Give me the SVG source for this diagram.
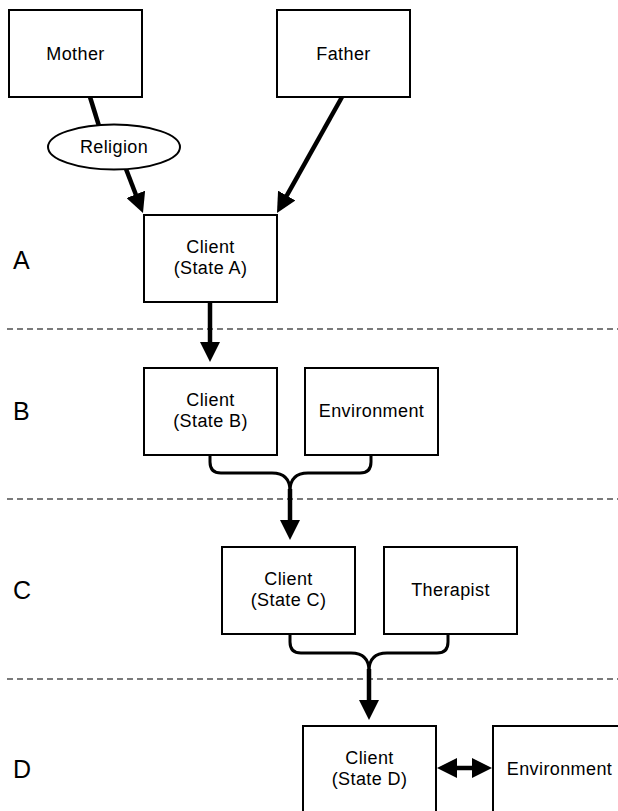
<svg xmlns="http://www.w3.org/2000/svg" width="618" height="811" viewBox="0 0 618 811">
<style>
.box{fill:#fff;stroke:#000;stroke-width:2}
.t{font-family:"Liberation Sans",Arial,Helvetica,sans-serif;font-size:18px;fill:#000;text-anchor:middle;letter-spacing:0.4px}
.lbl{font-family:"Liberation Sans",Arial,Helvetica,sans-serif;font-size:25px;fill:#000}
.dash{stroke:#7a7a7a;stroke-width:2;stroke-dasharray:6 4;fill:none}
.arr{stroke:#000;stroke-width:4.5;fill:none;marker-end:url(#ah)}
.brace{stroke:#000;stroke-width:3;fill:none}
</style>
<defs>
<marker id="ah" markerUnits="userSpaceOnUse" markerWidth="22" markerHeight="20" refX="2" refY="10" orient="auto-start-reverse" viewBox="0 0 22 20">
<path d="M0,0 L20,10 L0,20 z" fill="#000"/>
</marker>
</defs>
<g id="separators">
<line class="dash" x1="7" y1="329" x2="618" y2="329"/>
<line class="dash" x1="7" y1="499" x2="618" y2="499"/>
<line class="dash" x1="7" y1="679" x2="618" y2="679"/>
</g>
<g id="labels">
<text class="lbl" x="13" y="269">A</text>
<text class="lbl" x="13" y="420">B</text>
<text class="lbl" x="13" y="599">C</text>
<text class="lbl" x="13" y="778">D</text>
</g>
<g id="connectors">
<line x1="90" y1="97" x2="99" y2="126" stroke="#000" stroke-width="4.5"/>
<line class="arr" x1="126" y1="169" x2="136.5" y2="196.2"/>
<line class="arr" x1="342" y1="97" x2="285.8" y2="197.3"/>
<line class="arr" x1="210" y1="302" x2="210" y2="344"/>
<path class="brace" d="M210,455 L210,462 Q210,473 221,473 L272,473 Q290,473 290,491"/>
<path class="brace" d="M371,455 L371,462 Q371,473 360,473 L308,473 Q290,473 290,491"/>
<line class="arr" x1="290" y1="489" x2="290" y2="522"/>
<path class="brace" d="M290,634 L290,642 Q290,653 301,653 L351,653 Q369,653 369,671"/>
<path class="brace" d="M448,634 L448,642 Q448,653 437,653 L387,653 Q369,653 369,671"/>
<line class="arr" x1="369" y1="669" x2="369" y2="702"/>
<line x1="455" y1="768" x2="474" y2="768" stroke="#000" stroke-width="4.5" marker-start="url(#ah)" marker-end="url(#ah)"/>
</g>
<g id="mother">
<rect class="box" x="9" y="10" width="133" height="87"/>
<text class="t" x="75.5" y="60">Mother</text>
</g>
<g id="father">
<rect class="box" x="277" y="10" width="133" height="87"/>
<text class="t" x="343.5" y="60">Father</text>
</g>
<g id="religion">
<ellipse class="box" cx="114" cy="147" rx="66" ry="22.5"/>
<text class="t" x="114" y="153">Religion</text>
</g>
<g id="clientA">
<rect class="box" x="144" y="215" width="133" height="87"/>
<text class="t" x="210.5" y="253">Client</text>
<text class="t" x="210.5" y="274">(State A)</text>
</g>
<g id="clientB">
<rect class="box" x="144" y="368" width="133" height="87"/>
<text class="t" x="210.5" y="406">Client</text>
<text class="t" x="210.5" y="427">(State B)</text>
</g>
<g id="environmentB">
<rect class="box" x="305" y="368" width="133" height="87"/>
<text class="t" x="371.5" y="417">Environment</text>
</g>
<g id="clientC">
<rect class="box" x="222" y="547" width="133" height="87"/>
<text class="t" x="288.5" y="585">Client</text>
<text class="t" x="288.5" y="606">(State C)</text>
</g>
<g id="therapist">
<rect class="box" x="384" y="547" width="133" height="87"/>
<text class="t" x="450.5" y="596">Therapist</text>
</g>
<g id="clientD">
<rect class="box" x="303" y="726" width="133" height="95"/>
<text class="t" x="369.5" y="764">Client</text>
<text class="t" x="369.5" y="785">(State D)</text>
</g>
<g id="environmentD">
<rect class="box" x="493" y="726" width="133" height="95"/>
<text class="t" x="559.5" y="775">Environment</text>
</g>
</svg>
